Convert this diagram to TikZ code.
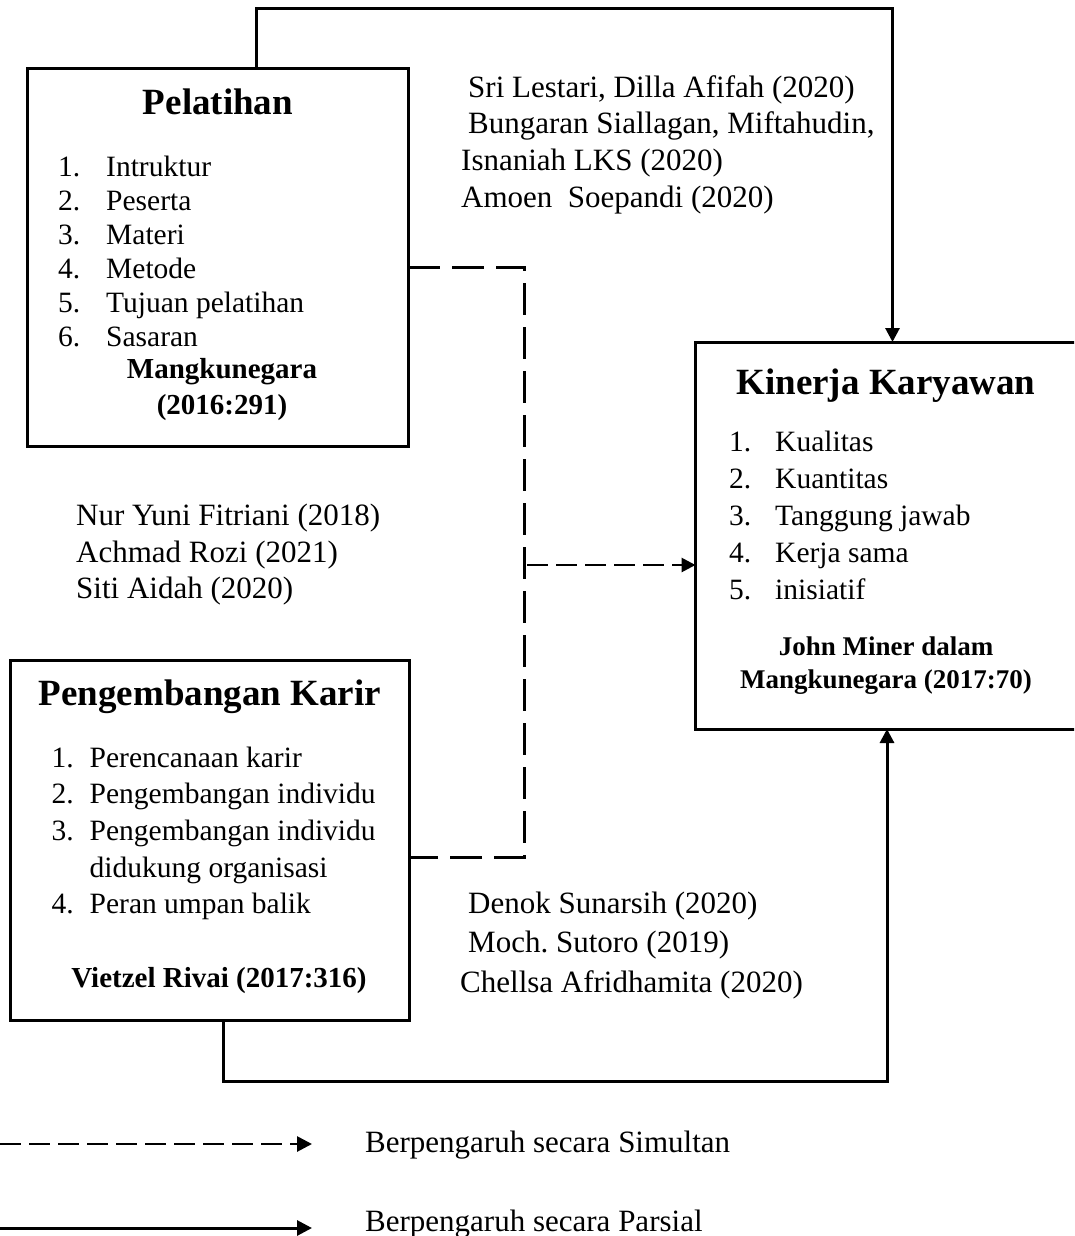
\documentclass[tikz,border=0pt]{standalone}
\usepackage{fontspec}
\setmainfont{Liberation Serif}
\usetikzlibrary{arrows.meta,calc}
\frenchspacing
\begin{document}
\begin{tikzpicture}[x=1pt,y=-1pt,
  box/.style={draw, line width=3pt, inner sep=0pt, outer sep=0pt, anchor=north west},
  ttl/.style={font=\fontsize{37}{44}\selectfont\bfseries, anchor=base, inner sep=0pt},
  itm/.style={font=\fontsize{29.5}{34}\selectfont, anchor=base west, inner sep=0pt},
  cite/.style={font=\fontsize{29}{34}\selectfont\bfseries, anchor=base, inner sep=0pt},
  ref/.style={font=\fontsize{31}{36}\selectfont, anchor=base west, inner sep=0pt},
  conn/.style={line width=3pt},
  arr/.style={conn, -{Triangle[length=14pt,width=14pt]}},
  dshline/.style={line width=3pt, dash pattern=on 32pt off 12pt},
  dshshort/.style={line width=2.8pt, dash pattern=on 21pt off 8pt}
]
\clip (0,0) rectangle (1074,1236);
\fill[white] (0,0) rectangle (1074,1236);

% boxes
\node[box, minimum width=381pt, minimum height=377pt] (pel) at (27,69) {};
\node[box, minimum width=420pt, minimum height=387pt] (kin) at (695.5,342) {};
\node[box, minimum width=399pt, minimum height=360pt] (peng) at (10,660) {};

% Pelatihan content
\node[ttl] (pelt) at (218,115) {Pelatihan};
\foreach \i/\t in {1/Intruktur,2/Peserta,3/Materi,4/Metode,5/Tujuan pelatihan,6/Sasaran}{
  \node[itm] (pn\i) at (58,{176+34*(\i-1)}) {\i.};
  \node[itm] (pi\i) at (106,{176+34*(\i-1)}) {\t};
}
\node[cite] (pelc1) at (222,378) {Mangkunegara};
\node[cite] (pelc2) at (222,414) {(2016:291)};

% Kinerja content
\node[ttl] (kint) at (886,394) {Kinerja Karyawan};
\foreach \i/\t in {1/Kualitas,2/Kuantitas,3/Tanggung jawab,4/Kerja sama,5/inisiatif}{
  \node[itm] (kn\i) at (729,{451+37*(\i-1)}) {\i.};
  \node[itm] (ki\i) at (775,{451+37*(\i-1)}) {\t};
}
\node[cite, font=\fontsize{27}{32}\selectfont\bfseries] (kinc1) at (886,655) {John Miner dalam};
\node[cite, font=\fontsize{27}{32}\selectfont\bfseries] (kinc2) at (886,688) {Mangkunegara (2017:70)};

% Pengembangan content
\node[ttl] (pengt) at (210,705) {Pengembangan Karir};
\node[itm] (gn1) at (51.5,767) {1.};
\node[itm] (gi1) at (89.5,767) {Perencanaan karir};
\node[itm] (gn2) at (51.5,803) {2.};
\node[itm] (gi2) at (89.5,803) {Pengembangan individu};
\node[itm] (gn3) at (51.5,840) {3.};
\node[itm] (gi3) at (89.5,840) {Pengembangan individu};
\node[itm] (gi3b) at (89.5,877) {didukung organisasi};
\node[itm] (gn4) at (51.5,913) {4.};
\node[itm] (gi4) at (89.5,913) {Peran umpan balik};
\node[cite] (pengc) at (219,987) {Vietzel Rivai (2017:316)};

% references
\node[ref] (r1) at (468,98) {Sri Lestari, Dilla Afifah (2020)};
\node[ref] (r2) at (468,133) {Bungaran Siallagan, Miftahudin,};
\node[ref] (r3) at (461,170) {Isnaniah LKS (2020)};
\node[ref] (r4) at (461,207) {Amoen\ \ Soepandi (2020)};
\node[ref] (r5) at (76,525) {Nur Yuni Fitriani (2018)};
\node[ref] (r6) at (76,562) {Achmad Rozi (2021)};
\node[ref] (r7) at (76,598) {Siti Aidah (2020)};
\node[ref] (r8) at (468,913) {Denok Sunarsih (2020)};
\node[ref] (r9) at (468,952) {Moch. Sutoro (2019)};
\node[ref] (r10) at (460,992) {Chellsa Afridhamita (2020)};

% connectors
\coordinate (t1) at (256.5,9);
\coordinate (t2) at (892.5,9);
\draw[arr] (pel.north -| t1) -- (t1) -- (t2) -- (t2 |- kin.north);

\coordinate (b1) at (223,1081);
\coordinate (b2) at (887,1081);
\draw[arr] (peng.south -| b1) -- (b1) -- (b2) -- (b2 |- kin.south);

\coordinate (d1) at (524,267);
\coordinate (d2) at (524,857);
\coordinate (d3) at (527,565);
\draw[dshline] (pel.east |- d1) -- (d1) -- (d2) -- (peng.east |- d2);
\draw[dshshort, -{Triangle[length=14pt,width=14pt]}] (d3) -- (kin.west |- d3);

% legend
\coordinate (l1) at (0,1144);
\coordinate (l2) at (312,1144);
\coordinate (l3) at (0,1228);
\coordinate (l4) at (312,1228);
\draw[dshshort, -{Triangle[length=15pt,width=15pt]}] (l1) -- (l2);
\draw[conn, -{Triangle[length=15pt,width=15pt]}] (l3) -- (l4);
\node[ref] (lg1) at (365,1152) {Berpengaruh secara Simultan};
\node[ref] (lg2) at (365,1231) {Berpengaruh secara Parsial};
\end{tikzpicture}
\end{document}
